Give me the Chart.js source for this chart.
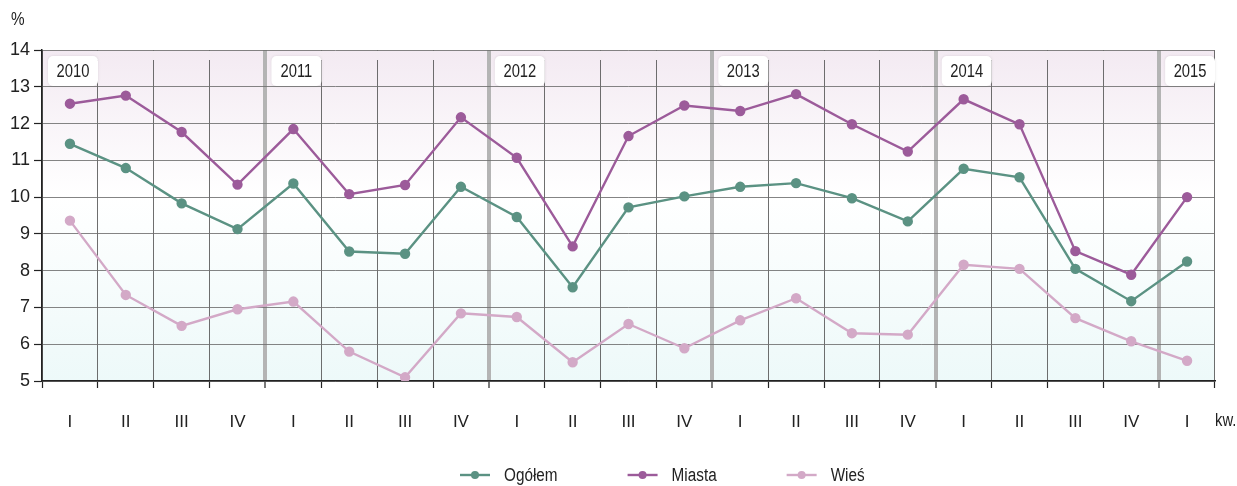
<!DOCTYPE html>
<html><head><meta charset="utf-8">
<script src="https://cdn.jsdelivr.net/npm/chart.js@4.4.1/dist/chart.umd.min.js"></script>
<style>html,body{margin:0;padding:0;background:#fff}#wrap{width:1237px;height:486px}</style>
</head><body><div id="wrap"><canvas id="c" width="1237" height="486"></canvas></div>
<script>
const categories = ['I','II','III','IV','I','II','III','IV','I','II','III','IV','I','II','III','IV','I','II','III','IV','I'];
const years = ['2010','2011','2012','2013','2014','2015'];
const yearStartIndex = [0,4,8,12,16,20];
const ogolem = [11.45,10.79,9.83,9.13, 10.37,8.52,8.46,10.28, 9.46,7.55,9.72,10.02, 10.28,10.38,9.97,9.34, 10.77,10.54,8.05,7.17, 8.25];
const miasta = [12.54,12.76,11.77,10.34, 11.85,10.08,10.33,12.17, 11.07,8.66,11.66,12.49, 12.34,12.80,11.98,11.24, 12.66,11.98,8.53,7.89, 10.00];
const wies   = [9.36,7.34,6.50,6.95, 7.16,5.80,5.10,6.84, 6.74,5.51,6.55,5.89, 6.65,7.25,6.30,6.26, 8.16,8.05,6.71,6.08, 5.55];
const seriesNames = ['Ogółem','Miasta','Wieś'];
const yTicks = [5,6,7,8,9,10,11,12,13,14];

const FONT = '"Liberation Sans", Arial, sans-serif';
const colors = ['#5b9283','#9c5b9a','#d3a9c7'];
const TEXT = '#222';

function mkDs(label, data, color){
  return {label, data, borderColor: color, backgroundColor: color, pointBackgroundColor: color,
    pointBorderColor: color, borderWidth: 2.4, pointRadius: 4, pointHoverRadius: 4, tension: 0, fill: false};
}

const yearStarts = new Set(yearStartIndex.filter(i => i > 0));

// draw condensed text (emulates a narrow face)
function narrowText(ctx, text, x, y, size, align, sx){
  ctx.save();
  ctx.font = size + 'px ' + FONT;
  ctx.textBaseline = 'middle';
  ctx.textAlign = align;
  ctx.translate(x, y);
  ctx.scale(sx, 1);
  ctx.fillText(text, 0, 0);
  ctx.restore();
  ctx.save(); ctx.font = size + 'px ' + FONT;
  const w = ctx.measureText(text).width * sx; ctx.restore();
  return w;
}

const bgPlugin = {
  id: 'bg',
  beforeDraw(chart){
    const {ctx, chartArea:a} = chart;
    const g = ctx.createLinearGradient(0, a.top, 0, a.bottom);
    g.addColorStop(0, '#f3eaf2');
    g.addColorStop(0.44, '#ffffff');
    g.addColorStop(1, '#edf9f9');
    ctx.save(); ctx.fillStyle = g; ctx.fillRect(a.left, a.top, a.right - a.left, a.bottom - a.top); ctx.restore();
  }
};

const decorPlugin = {
  id: 'decor',
  beforeDatasetsDraw(chart){
    const {ctx, chartArea:a, scales:{x}} = chart;
    const half = (x.getPixelForValue(1) - x.getPixelForValue(0)) / 2;
    ctx.save();
    for (let i = 1; i < categories.length; i++){
      if (yearStarts.has(i)) continue;
      const bx = x.getPixelForValue(i) - half;
      ctx.fillStyle = '#f3ebf2';
      ctx.fillRect(bx - 1.5, a.top + 1, 3, 9);
    }
    years.forEach((yr, k) => {
      const bx = x.getPixelForValue(yearStartIndex[k]) - half;
      const left = bx + 6;
      const right = Math.min(left + 50, a.right);
      const top = a.top + 6, h = 30;
      ctx.save();
      ctx.shadowColor = 'rgba(0,0,0,0.10)'; ctx.shadowBlur = 3;
      ctx.fillStyle = '#ffffff';
      ctx.beginPath();
      ctx.roundRect(left, top, right - left, h, 5);
      ctx.fill();
      ctx.restore();
      ctx.fillStyle = TEXT;
      narrowText(ctx, yr, (left + right) / 2, top + h / 2 + 1, 18, 'center', 0.82);
    });
    ctx.restore();
  },
  afterDraw(chart){
    const {ctx} = chart;
    ctx.save();
    ctx.fillStyle = TEXT;
    narrowText(ctx, '%', 11, 20, 18, 'left', 0.85);
    narrowText(ctx, 'kw.', 1215, 421, 18, 'left', 0.82);
    let lx = 460; const ly = 475;
    chart.data.datasets.forEach((ds) => {
      ctx.strokeStyle = ds.borderColor; ctx.lineWidth = 2.4;
      ctx.beginPath(); ctx.moveTo(lx, ly); ctx.lineTo(lx + 30, ly); ctx.stroke();
      ctx.fillStyle = ds.borderColor;
      ctx.beginPath(); ctx.arc(lx + 15, ly, 4, 0, Math.PI * 2); ctx.fill();
      ctx.fillStyle = TEXT;
      const w = narrowText(ctx, ds.label, lx + 44, ly + 1, 18, 'left', 0.85);
      lx += 44 + w + 70;
    });
    ctx.restore();
  }
};

new Chart(document.getElementById('c'), {
  type: 'line',
  data: {labels: categories, datasets: [mkDs(seriesNames[0], ogolem, colors[0]), mkDs(seriesNames[1], miasta, colors[1]), mkDs(seriesNames[2], wies, colors[2])]},
  options: {
    responsive: false, animation: false, devicePixelRatio: 1,
    layout: {padding: {left: 0, right: 22, top: 50, bottom: 0}},
    plugins: {legend: {display: false}, tooltip: {enabled: false}},
    scales: {
      x: {
        offset: true,
        afterFit(s){ s.height = 105; },
        grid: {
          offset: true, drawOnChartArea: true, tickLength: 7,
          color: (c) => yearStarts.has(c.index) ? '#b4b4b4' : 'rgba(85,85,85,0.85)',
          lineWidth: (c) => yearStarts.has(c.index) ? 4 : 1,
          tickColor: '#222', tickWidth: 1.2
        },
        border: {color: '#222', width: 1.5},
        ticks: {color: TEXT, font: {family: FONT, size: 17}, padding: 24, autoSkip: false, maxRotation: 0}
      },
      y: {
        min: 5, max: 14,
        afterFit(s){ s.width = 42; },
        afterBuildTicks(s){ s.ticks = yTicks.map(v => ({value: v})); },
        grid: {color: 'rgba(110,110,110,0.85)', lineWidth: 1, tickLength: 8, tickColor: '#222', tickWidth: 1.2},
        border: {color: '#222', width: 1.5},
        ticks: {color: TEXT, font: {family: FONT, size: 18}, padding: 4, stepSize: 1}
      }
    }
  },
  plugins: [bgPlugin, decorPlugin]
});
</script>
</body></html>
